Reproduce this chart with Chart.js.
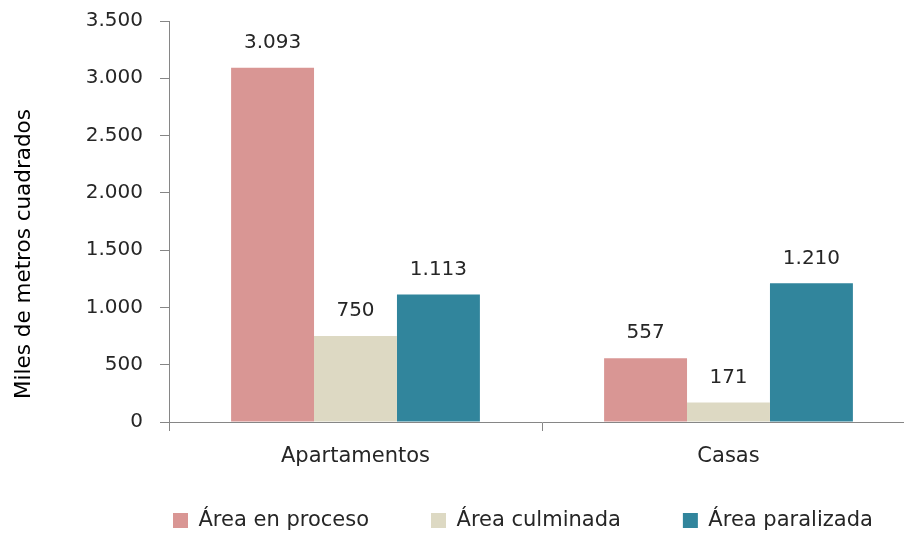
<!DOCTYPE html>
<html lang="es">
<head>
<meta charset="utf-8">
<title>Área en proceso, culminada y paralizada</title>
<script src="https://cdn.jsdelivr.net/npm/chart.js@4/dist/chart.umd.min.js"></script>
<style>
    html, body { margin: 0; padding: 0; background: #fff; overflow: hidden; }
    #wrap { position: absolute; left: 0; top: 0; }
</style>
</head>
<body>
<div id="wrap"><canvas id="myChart" width="920" height="541"></canvas></div>
<script>
    const categories = ['Apartamentos', 'Casas'];
    const seriesNames = ['Área en proceso', 'Área culminada', 'Área paralizada'];
    const enProceso = [3093, 557];
    const culminada = [750, 171];
    const paralizada = [1113, 1210];
    const yTicks = [0, 500, 1000, 1500, 2000, 2500, 3000, 3500];
    const colors = ['#D99694', '#DDD9C3', '#31859C'];

    const FONT = 'DejaVu Sans';
    const TEXT = '#262626';
    const AXIS = '#868686';

    // 3093 -> "3.093"
    function miles(v) {
        return String(v).replace(/\B(?=(\d{3})+(?!\d))/g, '.');
    }

    // valores encima de cada barra
    const valueLabels = {
        id: 'valueLabels',
        afterDatasetsDraw(chart) {
            const ctx = chart.ctx;
            ctx.save();
            ctx.font = '20px "' + FONT + '"';
            ctx.fillStyle = TEXT;
            ctx.textAlign = 'center';
            ctx.textBaseline = 'middle';
            chart.data.datasets.forEach(function(ds, i) {
                chart.getDatasetMeta(i).data.forEach(function(bar, j) {
                    ctx.fillText(miles(ds.data[j]), bar.x, bar.y - 25);
                });
            });
            ctx.restore();
        }
    };

    // título del eje Y, centrado como en el original
    const yTitle = {
        id: 'yTitle',
        afterDraw(chart) {
            const ctx = chart.ctx;
            ctx.save();
            ctx.translate(24, 254);
            ctx.rotate(-Math.PI / 2);
            ctx.font = '21.5px "' + FONT + '"';
            ctx.fillStyle = '#000';
            ctx.textAlign = 'center';
            ctx.textBaseline = 'middle';
            ctx.fillText('Miles de metros cuadrados', 0, 0);
            ctx.restore();
        }
    };

    // leyenda algo a la derecha; etiquetas del eje X sin recortar
    const layoutFix = {
        id: 'layoutFix',
        afterLayout(chart) {
            chart.legend.left += 111;
            chart.legend.right += 111;
            chart.scales.x.bottom = chart.height;
        }
    };

    document.addEventListener('DOMContentLoaded', function() {
        const ctx = document.getElementById('myChart').getContext('2d');
        const series = [enProceso, culminada, paralizada];

        new Chart(ctx, {
            type: 'bar',
            data: {
                labels: categories,
                datasets: seriesNames.map(function(name, i) {
                    return {
                        label: name,
                        data: series[i],
                        backgroundColor: colors[i],
                        borderWidth: 0,
                        categoryPercentage: 0.667,
                        barPercentage: 1
                    };
                })
            },
            options: {
                responsive: false,
                animation: false,
                layout: { padding: { top: 21, right: 5, left: 0, bottom: 0 } },
                plugins: {
                    legend: {
                        position: 'bottom',
                        align: 'start',
                        labels: {
                            boxWidth: 15,
                            boxHeight: 15,
                            padding: 62,
                            color: TEXT,
                            font: { family: FONT, size: 21 }
                        }
                    },
                    tooltip: { enabled: false }
                },
                scales: {
                    x: {
                        grid: {
                            drawOnChartArea: false,
                            drawTicks: true,
                            tickLength: 9,
                            color: AXIS,
                            offset: true
                        },
                        border: { display: true, color: AXIS },
                        ticks: {
                            color: TEXT,
                            padding: 13,
                            font: { family: FONT, size: 21 }
                        },
                        afterFit(scale) {
                            scale.height = 26;
                        }
                    },
                    y: {
                        min: yTicks[0],
                        max: yTicks[yTicks.length - 1],
                        afterBuildTicks(scale) {
                            scale.ticks = yTicks.map(function(v) { return { value: v }; });
                        },
                        grid: {
                            drawOnChartArea: false,
                            drawTicks: true,
                            tickLength: 9,
                            color: AXIS
                        },
                        border: { display: true, color: AXIS },
                        ticks: {
                            color: TEXT,
                            padding: 17,
                            font: { family: FONT, size: 20 },
                            callback: function(v) { return miles(v); }
                        },
                        afterFit(scale) {
                            scale.width = 169;
                            scale.paddingTop = 0;
                            scale.paddingBottom = 0;
                        }
                    }
                }
            },
            plugins: [valueLabels, yTitle, layoutFix]
        });
    });
</script>
</body>
</html>
